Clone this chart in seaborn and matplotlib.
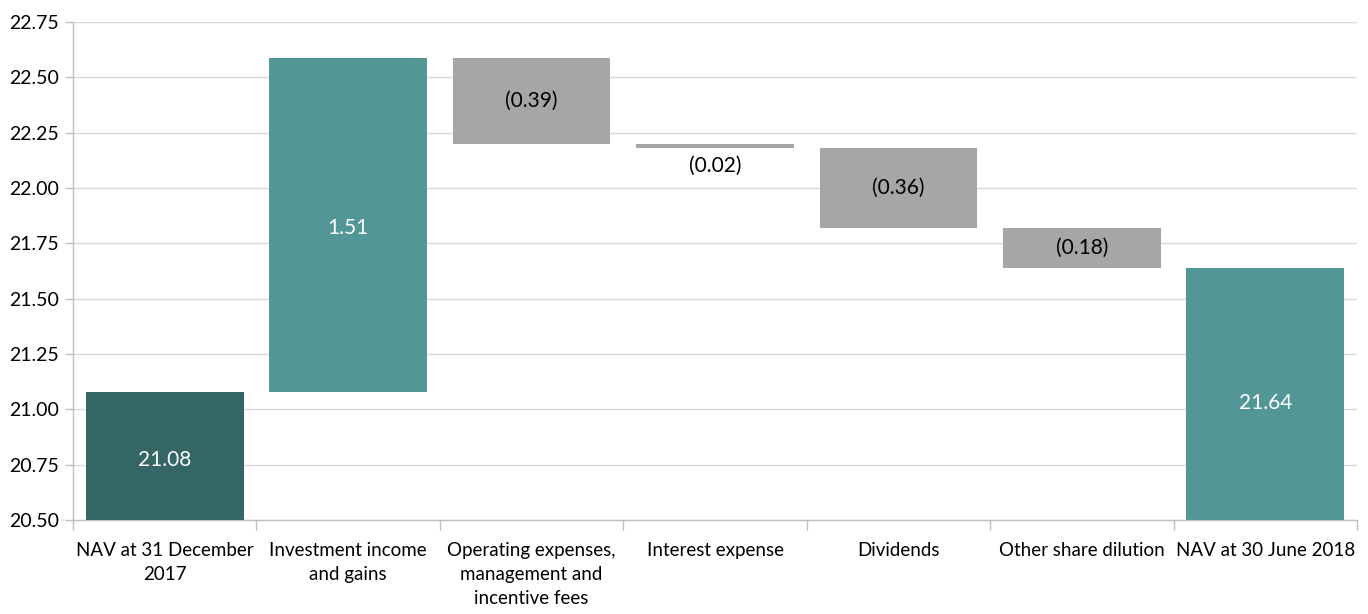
import matplotlib
matplotlib.use("Agg")
import matplotlib.pyplot as plt
import seaborn as sns
import numpy as np

categories = ["NAV at 31 December\n2017", "Investment income\nand gains",
              "Operating expenses,\nmanagement and\nincentive fees",
              "Interest expense", "Dividends", "Other share dilution",
              "NAV at 30 June 2018"]
start_nav = 21.08
changes = [1.51, -0.39, -0.02, -0.36, -0.18]
end_nav = 21.64
labels = ["21.08", "1.51", "(0.39)", "(0.02)", "(0.36)", "(0.18)", "21.64"]
y_ticks = [20.50, 20.75, 21.00, 21.25, 21.50, 21.75, 22.00, 22.25, 22.50, 22.75]

# waterfall geometry from data
bottoms = [0.0]
heights = [start_nav]
level = start_nav
for c in changes:
    new = level + c
    bottoms.append(min(level, new))
    heights.append(abs(c))
    level = new
bottoms.append(0.0)
heights.append(end_nav)

colors = ["#346666", "#529795", "#a6a6a6", "#a6a6a6", "#a6a6a6", "#a6a6a6", "#529795"]
text_colors = ["white", "white", "black", "black", "black", "black", "white"]
label_shift = [-0.02, -0.015, 0.0, 0.0, 0.0, 0.0, -0.04]

sns.set_theme(style="white")
plt.rcParams["font.family"] = ["Lato", "DejaVu Sans"]

fig = plt.figure(figsize=(13.68, 6.14), dpi=100)
ax = fig.add_axes([0.0534, 0.153, 0.992 - 0.0534, 0.964 - 0.153])

sns.barplot(x=list(range(7)), y=heights, bottom=bottoms, width=0.86, ax=ax,
            color="#a6a6a6", saturation=1, native_scale=True, zorder=3)
for p, c in zip(ax.patches, colors):
    p.set_facecolor(c)
    p.set_edgecolor("none")

ax.set_ylim(20.50, 22.75)
ax.set_xlim(-0.5, 6.5)
ax.set_yticks(y_ticks)
ax.set_yticklabels([f"{v:.2f}" for v in y_ticks], fontsize=14)
ax.set_xticks(range(7))
ax.set_xticklabels(categories, fontsize=13.5, linespacing=1.5)
ax.set_xticks(np.arange(-0.5, 7, 1), minor=True)
ax.tick_params(axis="x", which="major", length=0, pad=16, colors="black")
ax.tick_params(axis="x", which="minor", length=7, width=1, color="#bfbfbf", direction="out", bottom=True)
ax.tick_params(axis="y", length=6, width=1, color="#bfbfbf", direction="out", left=True, pad=4, colors="black")
ax.tick_params(axis="y", colors="black", color="#bfbfbf")
ax.grid(axis="y", color="#d9d9d9", linewidth=1, zorder=0)
ax.set_axisbelow(True)
for s in ["top", "right"]:
    ax.spines[s].set_visible(False)
for s in ["left", "bottom"]:
    ax.spines[s].set_color("#bfbfbf")
    ax.spines[s].set_linewidth(1)
ax.set_xlabel("")
ax.set_ylabel("")

for i, (b, h, lab, tc) in enumerate(zip(bottoms, heights, labels, text_colors)):
    if i == 3:
        ax.text(i, b - 0.035, lab, ha="center", va="top", fontsize=15, color=tc, zorder=4)
    else:
        lo = max(b, 20.50)
        mid = (lo + b + h) / 2 + label_shift[i]
        ax.text(i, mid, lab, ha="center", va="center", fontsize=15, color=tc, zorder=4)

fig.savefig("out.png", dpi=100)
